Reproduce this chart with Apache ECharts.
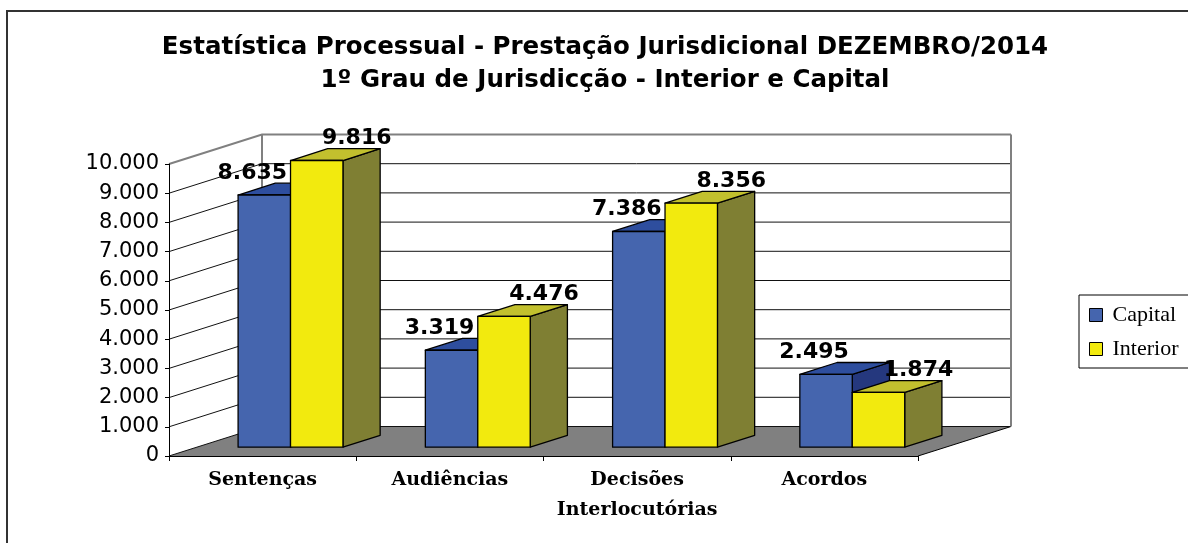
<!DOCTYPE html>
<html><head><meta charset="utf-8">
<script src="https://cdn.jsdelivr.net/npm/echarts@6/dist/echarts.min.js"></script>
<style>html,body{margin:0;padding:0;background:#fff}#c{width:1188px;height:543px}</style>
</head><body><div id="c"></div>
<script>
// ---- data ----
const categories = ['Sentenças', 'Audiências', 'Decisões\nInterlocutórias', 'Acordos'];
const capital = [8635, 3319, 7386, 2495];
const interior = [9816, 4476, 8356, 1874];
const seriesNames = ['Capital', 'Interior'];
const yTickValues = [0, 1000, 2000, 3000, 4000, 5000, 6000, 7000, 8000, 9000, 10000];
const yTickLabels = ['0', '1.000', '2.000', '3.000', '4.000', '5.000', '6.000', '7.000', '8.000', '9.000', '10.000'];
const titleLines = ['Estatística Processual - Prestação Jurisdicional DEZEMBRO/2014', '1º Grau de Jurisdicção - Interior e Capital'];

// ---- 3D look (pixels / fractions) ----
const DX = 93, DY = -29.5;      // depth vector of the plot box
const F0 = 0.3, FD = 0.4;       // bar front position and bar depth, as fraction of box depth
const BW = 0.28;                // bar width as fraction of category band
const palCapital = ['#4565AE', '#2E4E9E', '#25387E'];
const palInterior = ['#F2EA0E', '#C2C02E', '#7F7F33'];

function fmt(v) { const s = String(v); return s.length > 3 ? s.slice(0, -3) + '.' + s.slice(-3) : s; }

function barRender(pal, sideSign) {
  return function (params, api) {
    const i = api.value(0), v = api.value(1);
    const top = api.coord([i, v]), base = api.coord([i, 0]);
    const w = api.size([1, 0])[0] * BW;
    const x0 = sideSign < 0 ? top[0] - w : top[0];
    const fx = DX * F0, fy = DY * F0, dx = DX * FD, dy = DY * FD;
    const yt = top[1] + fy, yb = base[1] + fy;
    const L = x0 + fx, R = x0 + w + fx;
    const st = { stroke: '#000', lineWidth: 1.3, lineJoin: 'round' };
    return { type: 'group', children: [
      { type: 'polygon', shape: { points: [[R, yt], [R + dx, yt + dy], [R + dx, yb + dy], [R, yb]] }, style: Object.assign({ fill: pal[2] }, st) },
      { type: 'polygon', shape: { points: [[L, yt], [R, yt], [R + dx, yt + dy], [L + dx, yt + dy]] }, style: Object.assign({ fill: pal[1] }, st) },
      { type: 'rect', shape: { x: L, y: yt, width: w, height: yb - yt }, style: Object.assign({ fill: pal[0] }, st) }
    ] };
  };
}

function labelRender(sideSign, shift) {
  return function (params, api) {
    const i = api.value(0), v = api.value(1);
    const top = api.coord([i, v]);
    const w = api.size([1, 0])[0] * BW;
    const cx = top[0] + sideSign * w / 2 + DX * F0 + shift;
    const y = top[1] + DY * F0 - 11;
    return { type: 'text', x: cx, y: y, style: { text: fmt(v), fontFamily: 'DejaVu Sans', fontWeight: 'bold', fontSize: 22, fill: '#000', align: 'center', verticalAlign: 'bottom' } };
  };
}

function wallRender(params, api) {
  const cs = params.coordSys;
  const xl = cs.x, xr = cs.x + cs.width;
  const y0 = api.coord([0, 0])[1];
  const yMax = api.coord([0, yTickValues[yTickValues.length - 1]])[1];
  const ch = [];
  ch.push({ type: 'polygon', shape: { points: [[xl, y0], [xr, y0], [xr + DX, y0 + DY], [xl + DX, y0 + DY]] }, style: { fill: '#808080' } });
  ch.push({ type: 'line', shape: { x1: xr, y1: y0, x2: xr + DX, y2: y0 + DY }, style: { stroke: '#000', lineWidth: 1 } });
  yTickValues.forEach(function (t, k) {
    const y = api.coord([0, t])[1];
    const last = k === yTickValues.length - 1;
    ch.push({ type: 'polyline', shape: { points: [[xl, y], [xl + DX, y + DY], [xr + DX, y + DY]] },
      style: { stroke: last ? '#808080' : '#111', lineWidth: last ? 2 : 1, fill: null } });
  });
  ch.push({ type: 'line', shape: { x1: xl + DX, y1: y0 + DY, x2: xl + DX, y2: yMax + DY }, style: { stroke: '#808080', lineWidth: 2 } });
  ch.push({ type: 'line', shape: { x1: xr + DX, y1: y0 + DY, x2: xr + DX, y2: yMax + DY }, style: { stroke: '#808080', lineWidth: 2 } });
  return { type: 'group', children: ch };
}

const chart = echarts.init(document.getElementById('c'), null, { renderer: 'canvas' });
chart.setOption({
  animation: false,
  backgroundColor: '#fff',
  title: {
    text: titleLines.join('\n'), left: 605, textAlign: 'center', top: 31, padding: 0,
    textStyle: { fontFamily: 'DejaVu Sans', fontWeight: 'bold', fontSize: 24.5, lineHeight: 33, color: '#000' }
  },
  graphic: [{ type: 'rect', z: -10, silent: true, shape: { x: 7, y: 11, width: 1400, height: 800 }, style: { fill: 'none', stroke: '#333', lineWidth: 2 } }],
  legend: {
    data: seriesNames, orient: 'vertical', left: 1079, top: 295, padding: [9, 12, 8, 10],
    itemWidth: 13, itemHeight: 13, itemGap: 12, icon: 'rect', selectedMode: false,
    borderColor: '#000', borderWidth: 1, borderRadius: 0,
    itemStyle: { borderColor: '#000', borderWidth: 1 },
    textStyle: { fontFamily: 'Liberation Serif', fontSize: 22, color: '#000', padding: [0, 0, 0, 5] }
  },
  grid: { left: 169, right: 270, top: 164, bottom: 87, containLabel: false },
  xAxis: {
    type: 'category', data: categories, z: 5,
    axisLine: { lineStyle: { color: '#000', width: 1 } },
    axisTick: { show: true, length: 5, lineStyle: { color: '#000' } },
    axisLabel: { interval: 0, fontFamily: 'DejaVu Serif', fontWeight: 'bold', fontSize: 19, lineHeight: 30, margin: 9, color: '#000' },
    splitLine: { show: false }
  },
  yAxis: {
    type: 'value', min: 0, max: 10000, interval: 1000, z: 5,
    axisLine: { show: true, lineStyle: { color: '#000', width: 1 } },
    axisTick: { show: true, length: 4, lineStyle: { color: '#000' } },
    axisLabel: { formatter: function (v) { return yTickLabels[yTickValues.indexOf(v)]; }, fontFamily: 'DejaVu Sans', fontSize: 21, margin: 10, color: '#000' },
    splitLine: { show: false }
  },
  series: [
    { type: 'custom', name: 'wall', z: 1, clip: false, silent: true, renderItem: wallRender, data: [[0, 0]], encode: { x: 0, y: 1 } },
    { type: 'custom', name: seriesNames[0], z: 2, clip: false, itemStyle: { color: palCapital[0] }, renderItem: barRender(palCapital, -1), data: capital.map(function (v, i) { return [i, v]; }), encode: { x: 0, y: 1 } },
    { type: 'custom', name: seriesNames[1], z: 3, clip: false, itemStyle: { color: palInterior[0] }, renderItem: barRender(palInterior, 1), data: interior.map(function (v, i) { return [i, v]; }), encode: { x: 0, y: 1 } },
    { type: 'custom', name: 'lblCapital', z: 10, clip: false, silent: true, renderItem: labelRender(-1, -12), data: capital.map(function (v, i) { return [i, v]; }), encode: { x: 0, y: 1 } },
    { type: 'custom', name: 'lblInterior', z: 10, clip: false, silent: true, renderItem: labelRender(1, 40), data: interior.map(function (v, i) { return [i, v]; }), encode: { x: 0, y: 1 } }
  ]
});
</script>
</body></html>
